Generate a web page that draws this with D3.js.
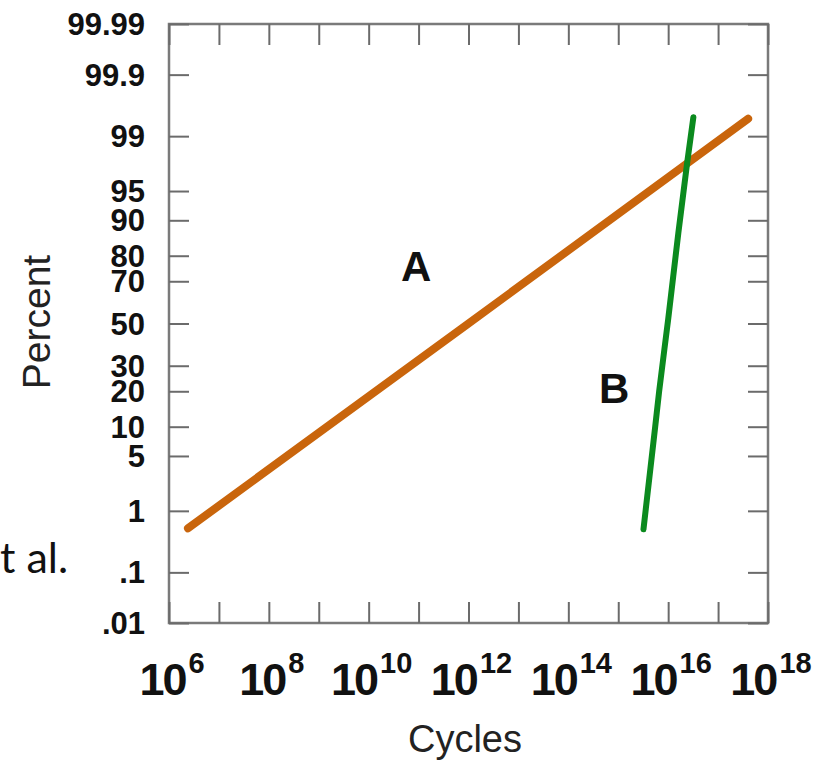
<!DOCTYPE html>
<html>
<head>
<meta charset="utf-8">
<script src="https://cdn.jsdelivr.net/npm/d3@7"></script>
<style>
  html, body { margin: 0; padding: 0; background: #fff; }
  svg { display: block; }
</style>
</head>
<body>
<svg id="chart" width="817" height="761"></svg>
<script>
// ---- data ----
const pctTicks   = [99.99, 99.9, 99, 95, 90, 80, 70, 50, 30, 20, 10, 5, 1, 0.1, 0.01];
const pctLabels  = ["99.99", "99.9", "99", "95", "90", "80", "70", "50", "30", "20", "10", "5", "1", ".1", ".01"];
const cycleDecades = [6, 7, 8, 9, 10, 11, 12, 13, 14, 15, 16, 17, 18];
const cycleLabelExps = [6, 8, 10, 12, 14, 16, 18];

const seriesA_cycles  = [2.4e6, 1e12, 4.0e17];
const seriesA_percent = [0.55, 50, 99.45];
const seriesB_cycles  = [3.2e15, 5.5e15, 6.6e15, 1.0e16, 1.6e16, 2.4e16, 3.2e16];
const seriesB_percent = [0.53, 10, 20, 52, 87, 97.7, 99.48];

// ---- inverse normal CDF (Acklam) ----
function probit(p) {
  const a = [-3.969683028665376e+01, 2.209460984245205e+02, -2.759285104469687e+02, 1.383577518672690e+02, -3.066479806614716e+01, 2.506628277459239e+00];
  const b = [-5.447609879822406e+01, 1.615858368580409e+02, -1.556989798598866e+02, 6.680131188771972e+01, -1.328068155288572e+01];
  const c = [-7.784894002430293e-03, -3.223964580411365e-01, -2.400758277161838e+00, -2.549732539343734e+00, 4.374664141464968e+00, 2.938163982698783e+00];
  const d = [7.784695709041462e-03, 3.224671290700398e-01, 2.445134137142996e+00, 3.754408661907416e+00];
  const pl = 0.02425, ph = 1 - pl;
  let q, r;
  if (p < pl) {
    q = Math.sqrt(-2 * Math.log(p));
    return (((((c[0]*q+c[1])*q+c[2])*q+c[3])*q+c[4])*q+c[5]) / ((((d[0]*q+d[1])*q+d[2])*q+d[3])*q+1);
  } else if (p <= ph) {
    q = p - 0.5; r = q*q;
    return (((((a[0]*r+a[1])*r+a[2])*r+a[3])*r+a[4])*r+a[5])*q / (((((b[0]*r+b[1])*r+b[2])*r+b[3])*r+b[4])*r+1);
  } else {
    q = Math.sqrt(-2 * Math.log(1 - p));
    return -(((((c[0]*q+c[1])*q+c[2])*q+c[3])*q+c[4])*q+c[5]) / ((((d[0]*q+d[1])*q+d[2])*q+d[3])*q+1);
  }
}

// ---- layout ----
const L = 169, R = 768, T = 24, B = 623;
const svg = d3.select("#chart");

const x = d3.scaleLog().domain([1e6, 1e18]).range([L, R]);
const yz = d3.scaleLinear().domain([probit(0.0001), probit(0.9999)]).range([B, T]);
const y = p => yz(probit(p / 100));

const tickColor = "#6b6b6b";

// frame
svg.append("rect")
  .attr("x", L).attr("y", T).attr("width", R - L).attr("height", B - T)
  .attr("fill", "none").attr("stroke", "#7a7a7a").attr("stroke-width", 2.5);

// left axis
const leftAxis = d3.axisLeft(yz)
  .tickValues(pctTicks.map(p => probit(p / 100)))
  .tickFormat((d, i) => pctLabels[i])
  .tickSizeInner(-20).tickSizeOuter(0).tickPadding(24);
const gl = svg.append("g").attr("transform", `translate(${L},0)`).call(leftAxis);

// right axis (ticks only)
const rightAxis = d3.axisRight(yz)
  .tickValues(pctTicks.map(p => probit(p / 100)))
  .tickFormat(() => "")
  .tickSizeInner(-20).tickSizeOuter(0);
const gr = svg.append("g").attr("transform", `translate(${R},0)`).call(rightAxis);

// top axis (ticks only)
const topAxis = d3.axisTop(x)
  .tickValues(cycleDecades.map(e => Math.pow(10, e)))
  .tickFormat(() => "")
  .tickSizeInner(-21).tickSizeOuter(0);
const gt = svg.append("g").attr("transform", `translate(0,${T})`).call(topAxis);

// bottom axis
const bottomAxis = d3.axisBottom(x)
  .tickValues(cycleDecades.map(e => Math.pow(10, e)))
  .tickFormat(() => "")
  .tickSizeInner(-21).tickSizeOuter(0);
const gb = svg.append("g").attr("transform", `translate(0,${B})`).call(bottomAxis);

[gl, gr, gt, gb].forEach(g => {
  g.select(".domain").remove();
  g.selectAll(".tick line").attr("stroke", tickColor).attr("stroke-width", 2);
});

gl.selectAll(".tick text")
  .attr("font-family", "'Liberation Sans', Arial, Helvetica, sans-serif")
  .attr("font-weight", "bold")
  .attr("font-size", 31)
  .attr("fill", "#111")
  .attr("dy", "0.34em");

// bottom labels with superscripts
const labelG = svg.append("g")
  .attr("font-family", "'Liberation Sans', Arial, Helvetica, sans-serif")
  .attr("font-weight", "bold")
  .attr("fill", "#111")
  .attr("text-anchor", "middle");
cycleLabelExps.forEach(e => {
  const t = labelG.append("text")
    .attr("x", x(Math.pow(10, e)) + 3)
    .attr("y", 695);
  t.append("tspan").attr("font-size", 45).attr("letter-spacing", -2).text("10");
  t.append("tspan").attr("font-size", 29).attr("dx", 3).attr("dy", -22).text(String(e));
});

// axis titles
svg.append("text")
  .attr("x", 465).attr("y", 752)
  .attr("text-anchor", "middle")
  .attr("font-family", "'Liberation Sans', Arial, Helvetica, sans-serif")
  .attr("font-size", 38)
  .attr("fill", "#222")
  .text("Cycles");

svg.append("text")
  .attr("transform", "translate(50,322) rotate(-90)")
  .attr("text-anchor", "middle")
  .attr("font-family", "'Liberation Sans', Arial, Helvetica, sans-serif")
  .attr("font-size", 39)
  .attr("fill", "#222")
  .text("Percent");

// lines
const line = d3.line().x(d => x(d[0])).y(d => y(d[1]));
svg.append("path")
  .datum(seriesA_cycles.map((c, i) => [c, seriesA_percent[i]]))
  .attr("d", line)
  .attr("fill", "none").attr("stroke", "#c9650c").attr("stroke-width", 8)
  .attr("stroke-linecap", "round");
svg.append("path")
  .datum(seriesB_cycles.map((c, i) => [c, seriesB_percent[i]]))
  .attr("d", line.curve(d3.curveMonotoneY))
  .attr("fill", "none").attr("stroke", "#0b8a1e").attr("stroke-width", 6)
  .attr("stroke-linecap", "round");

// series labels
const lab = svg.append("g")
  .attr("font-family", "'Liberation Sans', Arial, Helvetica, sans-serif")
  .attr("font-weight", "bold")
  .attr("font-size", 42)
  .attr("fill", "#111");
lab.append("text").attr("x", 401).attr("y", 281).text("A");
lab.append("text").attr("x", 599).attr("y", 403).text("B");

// stray slide text
svg.append("text")
  .attr("x", 0).attr("y", 573)
  .attr("font-family", "Lato, 'Open Sans', sans-serif")
  .attr("font-size", 43)
  .attr("fill", "#111")
  .text("t al.");
</script>
</body>
</html>
